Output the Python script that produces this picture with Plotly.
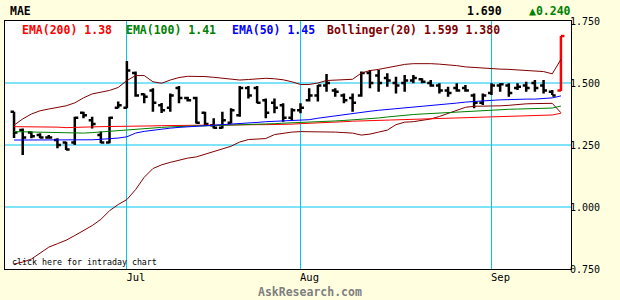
import plotly.graph_objects as go

# ---------------- data ----------------
month_labels = ["Jul", "Aug", "Sep"]
month_bar_index = [13, 33, 55]

opens = [1.384, 1.31, 1.30, 1.29, 1.28, 1.27, 1.26, 1.26, 1.38, 1.35,
         1.29, 1.26, 1.40, 1.40, 1.54, 1.455, 1.47, 1.41, 1.40, 1.48,
         1.44, 1.44, 1.38, 1.33, 1.32, 1.34, 1.37, 1.48, 1.48, 1.43,
         1.42, 1.41, 1.36, 1.39, 1.43, 1.45, 1.49, 1.47, 1.45, 1.44,
         1.45, 1.54, 1.53, 1.52, 1.50, 1.50, 1.51, 1.515, 1.50, 1.49,
         1.47, 1.48, 1.48, 1.45, 1.42, 1.46, 1.49, 1.49, 1.48, 1.49,
         1.50, 1.49, 1.465, 1.47]
highs = [1.384, 1.317, 1.304, 1.297, 1.290, 1.277, 1.263, 1.364, 1.384, 1.364,
         1.304, 1.364, 1.425, 1.589, 1.546, 1.458, 1.479, 1.419, 1.458, 1.488,
         1.445, 1.445, 1.384, 1.358, 1.384, 1.398, 1.488, 1.488, 1.488, 1.438,
         1.438, 1.418, 1.398, 1.418, 1.479, 1.492, 1.536, 1.479, 1.458, 1.458,
         1.546, 1.552, 1.552, 1.539, 1.525, 1.532, 1.532, 1.519, 1.512, 1.499,
         1.485, 1.499, 1.492, 1.458, 1.458, 1.499, 1.499, 1.499, 1.499, 1.505,
         1.512, 1.512, 1.472, 1.690]
lows = [1.278, 1.210, 1.277, 1.277, 1.277, 1.237, 1.230, 1.250, 1.358, 1.317,
        1.257, 1.257, 1.398, 1.398, 1.445, 1.418, 1.384, 1.379, 1.384, 1.418,
        1.425, 1.337, 1.331, 1.317, 1.317, 1.337, 1.364, 1.438, 1.418, 1.358,
        1.378, 1.344, 1.351, 1.378, 1.425, 1.425, 1.465, 1.445, 1.418, 1.384,
        1.445, 1.479, 1.465, 1.485, 1.458, 1.465, 1.499, 1.499, 1.485, 1.458,
        1.445, 1.465, 1.465, 1.398, 1.411, 1.452, 1.465, 1.445, 1.472, 1.465,
        1.465, 1.458, 1.452, 1.468]
closes = [1.30, 1.28, 1.285, 1.28, 1.28, 1.25, 1.232, 1.36, 1.37, 1.335,
          1.26, 1.36, 1.41, 1.55, 1.45, 1.445, 1.42, 1.39, 1.45, 1.44,
          1.43, 1.34, 1.335, 1.32, 1.35, 1.39, 1.48, 1.45, 1.42, 1.38,
          1.40, 1.36, 1.39, 1.40, 1.45, 1.49, 1.50, 1.465, 1.43, 1.42,
          1.54, 1.50, 1.50, 1.51, 1.49, 1.51, 1.52, 1.505, 1.49, 1.47,
          1.46, 1.47, 1.47, 1.42, 1.45, 1.49, 1.495, 1.46, 1.485, 1.48,
          1.48, 1.47, 1.45, 1.69]

ema200 = [1.324, 1.324, 1.324, 1.324, 1.323, 1.322, 1.320, 1.320, 1.321, 1.323,
          1.324, 1.324, 1.324, 1.325, 1.326, 1.327, 1.327, 1.328, 1.329, 1.330,
          1.330, 1.330, 1.330, 1.330, 1.331, 1.331, 1.331, 1.331, 1.332, 1.332,
          1.332, 1.333, 1.334, 1.336, 1.337, 1.338, 1.340, 1.342, 1.344, 1.346,
          1.347, 1.348, 1.349, 1.350, 1.352, 1.353, 1.354, 1.355, 1.356, 1.357,
          1.358, 1.359, 1.360, 1.361, 1.362, 1.363, 1.364, 1.365, 1.366, 1.367,
          1.368, 1.369, 1.371, 1.378]
ema100 = [1.304, 1.303, 1.302, 1.300, 1.299, 1.298, 1.298, 1.298, 1.298, 1.300,
          1.303, 1.305, 1.307, 1.310, 1.314, 1.317, 1.319, 1.321, 1.323, 1.325,
          1.326, 1.327, 1.327, 1.328, 1.328, 1.329, 1.330, 1.331, 1.333, 1.335,
          1.336, 1.338, 1.339, 1.340, 1.341, 1.343, 1.345, 1.347, 1.349, 1.351,
          1.353, 1.356, 1.359, 1.363, 1.367, 1.371, 1.373, 1.375, 1.377, 1.380,
          1.382, 1.384, 1.386, 1.388, 1.390, 1.392, 1.393, 1.394, 1.395, 1.396,
          1.397, 1.398, 1.399, 1.407]
ema50 = [1.270, 1.270, 1.269, 1.269, 1.268, 1.268, 1.268, 1.269, 1.270, 1.271,
         1.273, 1.275, 1.278, 1.283, 1.298, 1.305, 1.310, 1.314, 1.318, 1.321,
         1.323, 1.325, 1.327, 1.329, 1.331, 1.334, 1.336, 1.338, 1.341, 1.344,
         1.345, 1.346, 1.347, 1.348, 1.352, 1.358, 1.363, 1.368, 1.373, 1.379,
         1.382, 1.386, 1.390, 1.393, 1.397, 1.400, 1.403, 1.406, 1.409, 1.412,
         1.416, 1.419, 1.423, 1.426, 1.428, 1.430, 1.432, 1.434, 1.435, 1.435,
         1.435, 1.437, 1.440, 1.448]
bb_upper = [1.330, 1.355, 1.375, 1.388, 1.395, 1.401, 1.408, 1.420, 1.440, 1.456,
            1.462, 1.470, 1.482, 1.510, 1.530, 1.530, 1.505, 1.499, 1.512, 1.522,
            1.527, 1.528, 1.526, 1.523, 1.520, 1.515, 1.512, 1.514, 1.518, 1.519,
            1.517, 1.513, 1.505, 1.494, 1.494, 1.500, 1.510, 1.512, 1.512, 1.515,
            1.540, 1.550, 1.555, 1.562, 1.570, 1.575, 1.578, 1.579, 1.578, 1.576,
            1.574, 1.570, 1.565, 1.562, 1.560, 1.558, 1.556, 1.555, 1.553, 1.551,
            1.550, 1.546, 1.537, 1.595]
bb_lower = [0.770, 0.778, 0.790, 0.815, 0.838, 0.852, 0.866, 0.885, 0.905, 0.925,
            0.950, 0.985, 1.010, 1.030, 1.070, 1.120, 1.155, 1.170, 1.180, 1.190,
            1.197, 1.202, 1.212, 1.222, 1.232, 1.245, 1.262, 1.272, 1.274, 1.276,
            1.292, 1.298, 1.302, 1.304, 1.304, 1.304, 1.303, 1.302, 1.300, 1.298,
            1.290, 1.294, 1.302, 1.310, 1.332, 1.342, 1.344, 1.348, 1.355, 1.365,
            1.378, 1.390, 1.402, 1.406, 1.406, 1.407, 1.408, 1.410, 1.414, 1.416,
            1.417, 1.418, 1.418, 1.380]

y_ticks = [0.75, 1.0, 1.25, 1.5, 1.75]
symbol = "MAE"
last_price = "1.690"
change_text = "\u25b20.240"
legend_items = [("EMA(200) 1.38", "#ff0000"), ("EMA(100) 1.41", "#008000"),
                ("EMA(50) 1.45", "#0000ff"), ("Bollinger(20) 1.599 1.380", "#800000")]

# ---------------- figure ----------------
n = len(closes)
xs = list(range(n))
fig = go.Figure()

for series, col in [(bb_upper, "#800000"), (bb_lower, "#800000"),
                    (ema200, "#ff0000"), (ema100, "#008000"), (ema50, "#0000ff")]:
    fig.add_trace(go.Scatter(x=xs, y=series, mode="lines",
                             line=dict(color=col, width=1), hoverinfo="skip"))

fig.add_trace(go.Ohlc(x=xs[:-1], open=opens[:-1], high=highs[:-1], low=lows[:-1],
                      close=closes[:-1], tickwidth=0.4,
                      increasing=dict(line=dict(color="black", width=2.5)),
                      decreasing=dict(line=dict(color="black", width=2.5))))
fig.add_trace(go.Ohlc(x=xs[-1:], open=opens[-1:], high=highs[-1:], low=lows[-1:],
                      close=closes[-1:], tickwidth=0.4,
                      increasing=dict(line=dict(color="#ff0000", width=2.5)),
                      decreasing=dict(line=dict(color="#ff0000", width=2.5))))

mono = "DejaVu Sans Mono"
L, R, T, B = 5, 49, 21, 31
W, H = 620, 300
pw, ph = W - L - R, H - T - B


def px(xp):
    return (xp - L) / pw


def py(yp):
    return (H - B - yp) / ph


ann = [
    dict(text="<b>%s</b>" % symbol, x=px(8), y=py(11.5), xanchor="left",
         font=dict(size=11.5, color="black")),
    dict(text="<b>%s</b>" % last_price, x=px(504), y=py(11.5), xanchor="right",
         font=dict(size=11.5, color="black")),
    dict(text="<b>%s</b>" % change_text, x=px(573), y=py(11.5), xanchor="right",
         font=dict(size=11.5, color="#008000")),
    dict(text="click here for intraday chart", x=px(10), y=py(262), xanchor="left",
         font=dict(size=8.3, color="black")),
    dict(text="<b>AskResearch.com</b>", x=px(310), y=py(292), xanchor="center",
         font=dict(size=11.5, color="#808080")),
]
legend_x = [20, 124, 230, 325]
for (txt, col), lx in zip(legend_items, legend_x):
    ann.append(dict(text="<b>%s</b>" % txt, x=px(lx), y=py(30), xanchor="left",
                    font=dict(size=11.5, color=col)))
for a in ann:
    a.update(xref="paper", yref="paper", yanchor="middle", showarrow=False)
    a["font"]["family"] = mono

grid_col = "#00c8f0"
# horizontal gridlines as shapes at the y tick values (axis-scaled)
shapes = [dict(type="line", xref="paper", yref="y", x0=0, x1=1, y0=v, y1=v,
               line=dict(color=grid_col, width=1), layer="below")
          for v in y_ticks[1:-1]]

fig.update_layout(
    width=W, height=H, margin=dict(l=L, r=R, t=T, b=B),
    paper_bgcolor="#ffffe0", plot_bgcolor="white",
    showlegend=False, annotations=ann, shapes=shapes,
    font=dict(family=mono, size=10, color="black"),
    xaxis=dict(range=[-1.04, 64.16], tickvals=month_bar_index, ticktext=month_labels,
               showgrid=True, gridcolor=grid_col, gridwidth=1, zeroline=False,
               showline=True, mirror=True, linecolor="black", linewidth=1,
               ticks="", ticklen=0, ticklabelshift=9, ticklabelstandoff=-2,
               tickfont=dict(family=mono, size=10.5),
               rangeslider=dict(visible=False), fixedrange=True),
    yaxis=dict(range=[0.75, 1.75], tickvals=y_ticks, tickformat=".3f", side="right",
               showgrid=False, zeroline=False,
               showline=True, mirror=True, linecolor="black", linewidth=1,
               ticks="", ticklen=0, ticklabelstandoff=-4,
               tickfont=dict(family=mono, size=10), fixedrange=True),
)

fig.write_html("out.html", config={"displayModeBar": False})
